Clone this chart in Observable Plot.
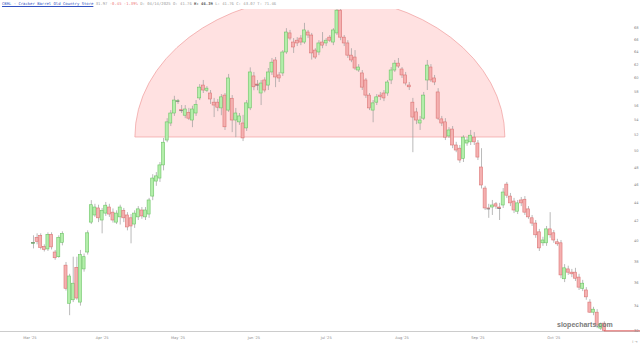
<!DOCTYPE html>
<html><head><meta charset="utf-8">
<script src="https://cdn.jsdelivr.net/npm/d3@7"></script>
<script src="https://cdn.jsdelivr.net/npm/@observablehq/plot@0.6"></script>
<style>
html,body{margin:0;padding:0;background:#fff}
body{width:640px;height:345px;overflow:hidden;position:relative}
#title{height:9px;font-family:"DejaVu Sans Mono",monospace;font-size:3.9px;line-height:8px;padding-left:2px;color:#9a9a9a;white-space:pre}
#title .tk{color:#3050c0;text-decoration:underline}
#title .neg{color:#ee7777}
#title b{color:#555}
#wm{position:absolute;left:557px;top:321px;font-family:"Liberation Sans",Arial,sans-serif;font-size:7px;color:#7a7a7a;font-weight:bold}
</style></head><body>
<div id="title"></div>
<div id="chart"></div>
<div id="wm">slopecharts.com</div>
<script>
const tickerName = "CBRL - Cracker Barrel Old Country Store";
const quoteParts = ["31.97", "-0.45 -1.39%", "D: 04/14/2025 O: 41.76", "H: 46.39", "L: 41.76 C: 43.07 T: 71.46"];

const opens = [39.7,40.3,40.5,39.4,39.15,40.6,38.85,38.4,39.8,37.6,34.2,34.5,37.4,34.3,37.25,38.85,41.85,42.6,43.35,42.07,
42.8,43.45,42.9,41.85,42.4,43.1,42.6,42.3,41.65,42.4,43.13,42.4,42.7,44.65,46.35,46.7,48.25,51.33,53.55,54.9,
56.55,55.35,54.6,55.0,53.95,54.9,57.0,58.85,58.1,57.7,56.4,56.4,55.6,57.4,55.3,56.95,53.95,53.7,53.55,52.9,
55.6,60.2,59.0,57.7,59.6,58.85,60.8,62.64,60.35,60.65,63.9,67.0,65.5,65.8,66.15,65.5,67.15,66.65,64.2,63.9,
65.5,65.35,66.3,65.5,67.0,70.9,66.3,65.35,63.4,63.1,61.1,60.65,59.6,57.4,55.3,56.4,57.4,57.7,57.7,59.6,
61.1,62.15,61.25,60.35,58.85,56.4,55.05,53.55,54.2,59.6,61.55,59.9,57.85,54.1,53.7,51.85,52.75,50.7,50.3,49.05,
50.95,51.1,51.7,50.95,48.0,45.55,43.35,43.45,43.8,43.45,43.67,46.0,44.65,44.1,43.0,44.22,44.3,43.25,42.3,41.75,
40.85,39.75,39.75,41.15,40.75,39.85,39.75,36.35,37.25,36.95,36.95,36.5,35.5,35.35,34.3,33.45,33.45,32.15,32.55];
const highs = [40.5,40.7,40.7,39.6,40.8,40.8,39.05,40.5,40.9,37.9,36.8,38.4,38.4,39.05,38.7,41.0,44.2,43.8,43.7,43.35,
44.0,43.8,43.3,43.1,43.7,43.35,42.9,42.7,43.1,43.55,43.45,43.45,44.45,47.15,47.4,48.6,51.6,54.2,55.3,57.3,
56.85,56.0,56.0,55.6,55.9,56.7,59.0,59.6,58.7,58.13,57.0,56.85,57.55,57.7,60.5,57.4,55.6,54.9,54.65,56.7,
61.5,60.8,59.6,59.6,60.0,61.4,62.95,63.1,60.8,64.2,67.8,67.5,66.15,66.3,66.65,68.7,67.5,67.0,64.5,65.8,
67.15,66.15,66.65,67.8,71.1,71.1,66.65,65.8,64.5,64.2,62.0,61.1,59.9,57.7,56.7,57.55,57.85,58.13,59.6,61.55,
62.64,62.95,61.55,60.8,59.3,57.0,55.6,54.5,57.85,62.64,62.0,60.35,58.4,54.5,54.2,53.0,53.15,51.1,50.7,51.95,
51.7,52.63,52.35,51.33,50.3,45.8,43.8,44.22,44.0,43.9,45.55,46.25,45.0,44.45,44.22,44.55,44.65,43.55,42.6,42.07,
41.15,40.35,41.45,42.9,41.04,40.15,40.03,37.7,37.55,37.25,37.35,36.8,36.25,35.6,34.55,33.9,33.7,32.6,32.7];
const lows = [39.2,39.6,39.1,38.9,38.95,39.1,38.1,38.3,39.5,35.3,33.2,34.3,34.5,34.0,37.0,38.6,41.65,42.4,41.85,40.7,
42.5,42.4,41.8,41.65,41.6,41.85,41.0,39.7,41.25,42.07,42.2,42.07,42.3,44.2,45.8,46.25,47.6,51.05,53.15,54.5,
56.15,54.9,54.2,53.95,53.0,54.5,56.7,57.7,57.85,56.15,54.35,55.15,54.6,52.63,55.05,52.35,51.7,53.3,51.2,52.5,
55.3,58.1,58.1,56.0,57.8,58.13,60.35,58.55,59.3,60.2,63.6,65.8,63.75,64.85,65.0,65.2,66.15,62.7,62.8,63.4,
64.5,64.85,65.5,65.0,66.65,65.8,64.85,62.95,62.3,61.1,60.8,58.13,57.0,55.3,53.65,56.0,56.7,56.55,57.3,59.0,
60.8,61.4,59.9,58.8,58.13,49.8,53.4,52.63,53.95,58.13,59.3,58.85,53.95,53.15,51.33,51.6,50.3,49.8,48.5,48.6,
50.6,50.7,50.7,48.84,45.5,43.13,42.3,42.6,43.25,42.07,43.35,44.45,43.55,42.8,42.7,43.55,42.6,42.2,41.45,40.25,
38.95,39.45,39.45,40.25,39.75,39.45,36.4,36.05,36.7,36.5,36.15,35.35,35.25,34.5,33.4,33.2,32.15,32.0,31.95];
const closes = [39.8,39.9,39.3,39.1,40.6,39.35,38.3,40.3,40.7,35.5,36.6,35.95,34.65,38.6,38.4,40.75,43.7,43.45,42.3,43.1,
43.65,42.7,42.07,42.8,43.45,42.3,41.35,41.45,42.8,43.25,42.5,43.13,44.22,46.7,46.95,48.25,51.05,53.7,54.9,56.7,
56.6,55.3,55.45,54.2,55.45,56.1,58.55,58.13,58.4,56.85,56.0,55.7,57.15,53.05,59.9,53.95,54.9,54.5,51.6,56.3,
60.8,58.6,58.9,59.15,58.13,60.8,62.3,60.05,59.9,63.9,67.15,66.15,64.7,65.35,65.5,67.5,66.65,63.75,63.1,65.35,
65.0,65.8,65.8,67.5,70.9,66.3,65.35,63.4,62.64,61.4,61.55,58.55,57.4,55.6,56.3,57.15,57.2,57.0,59.3,61.1,
62.15,61.7,60.35,59.15,58.6,54.35,53.95,53.95,57.4,61.85,59.6,59.3,54.2,53.55,51.7,52.63,50.7,50.07,48.84,51.7,
51.33,51.95,51.1,49.2,45.9,43.35,43.3,43.67,43.55,43.35,45.1,44.75,43.9,43.13,43.9,43.9,42.9,42.4,41.75,40.55,
39.25,40.03,41.15,40.55,40.03,39.65,36.7,37.35,36.95,36.8,36.4,35.6,35.95,34.75,33.45,33.7,32.4,32.5,31.97];

const monthTicks = [-1, 19, 40, 61, 81, 102, 123, 144];
const monthLabels = ["Mar '25", "Apr '25", "May '25", "Jun '25", "Jul '25", "Aug '25", "Sep '25", "Oct '25"];
const priceTicks = [32,34,36,38,40,42,44,46,48,50,52,54,56,58,60,62,64,66,68];

// rounding-top annotation: left foot, right foot (bar index), neckline and apex price
const arcStart = 28.2, arcEnd = 130.6, arcNeck = 51.72, arcApex = 73.45;

const xDomain = [-9.13, 168.0];
const yDomain = [31.92, 71.11];

const t = document.getElementById("title");
t.innerHTML = `<span class="tk">${tickerName}</span> ${quoteParts[0]} <span class="neg">${quoteParts[1]}</span> ${quoteParts[2]} <b>${quoteParts[3]}</b> ${quoteParts[4]}`;

const candles = opens.map((o, i) => ({i, o, h: highs[i], l: lows[i], c: closes[i], up: closes[i] >= o}));
const dojis = candles.filter(d => Math.abs(d.o - d.c) < 0.12);
const n = candles.length;
const lastClose = closes[n - 1];
const labelMap = new Map(monthTicks.map((d, i) => [d, monthLabels[i]]));

const arcMark = (index, scales, values, dims) => {
  const x = scales.x, y = scales.y;
  const x0 = x(arcStart), x1 = x(arcEnd), yb = y(arcNeck), yt = y(arcApex);
  const rx = (x1 - x0) / 2, ry = yb - yt;
  const g = d3.create("svg:g");
  const id = "arcclip";
  g.append("clipPath").attr("id", id).append("rect")
    .attr("x", dims.marginLeft).attr("y", dims.marginTop)
    .attr("width", dims.width - dims.marginLeft - dims.marginRight)
    .attr("height", dims.height - dims.marginTop - dims.marginBottom);
  g.append("path").attr("clip-path", `url(#${id})`)
    .attr("d", `M${x0},${yb}A${rx},${ry} 0 0 1 ${x1},${yb}Z`)
    .attr("fill", "#ffe1e1").attr("stroke", "#ef9c9c").attr("stroke-width", 0.7);
  return g.node();
};

const chart = Plot.plot({
  width: 640, height: 336,
  marginTop: 0, marginBottom: 14, marginLeft: 0, marginRight: 0,
  x: {type: "linear", domain: xDomain},
  y: {type: "log", domain: yDomain},
  color: {type: "identity"},
  style: {background: "transparent", fontFamily: "DejaVu Sans, sans-serif", overflow: "visible"},
  marks: [
    arcMark,
    Plot.frame({anchor: "bottom", stroke: "#cccccc"}),
    Plot.ruleX(candles, {x: "i", y1: "l", y2: "h", stroke: "#9c9c9c", strokeWidth: 0.7}),
    Plot.rect(candles, {
      x1: d => d.i - 0.42, x2: d => d.i + 0.42,
      y1: d => Math.min(d.o, d.c), y2: d => Math.max(d.o, d.c),
      fill: d => d.up ? "#b3eeaa" : "#f4b0b0",
      stroke: d => d.up ? "#6cc466" : "#dc7474",
      strokeWidth: 0.6
    }),
    Plot.ruleY(dojis, {y: "c", x1: d => d.i - 0.5, x2: d => d.i + 0.5, stroke: "#777", strokeWidth: 0.8}),
    Plot.ruleY([lastClose], {x1: n - 1, x2: xDomain[1], stroke: "#e05a5a", strokeWidth: 1}),
    Plot.axisX({ticks: monthTicks, tickFormat: d => labelMap.get(d), tickSize: 0, tickPadding: 5, fontSize: 3.6, fill: "#888"}),
    Plot.axisY({anchor: "right", ticks: priceTicks, tickFormat: d => String(d), tickSize: 0, tickPadding: 0, dx: -2, textAnchor: "end", fontSize: 3.6, fill: "#888"})
  ]
});
document.getElementById("chart").appendChild(chart);
</script>
</body></html>
